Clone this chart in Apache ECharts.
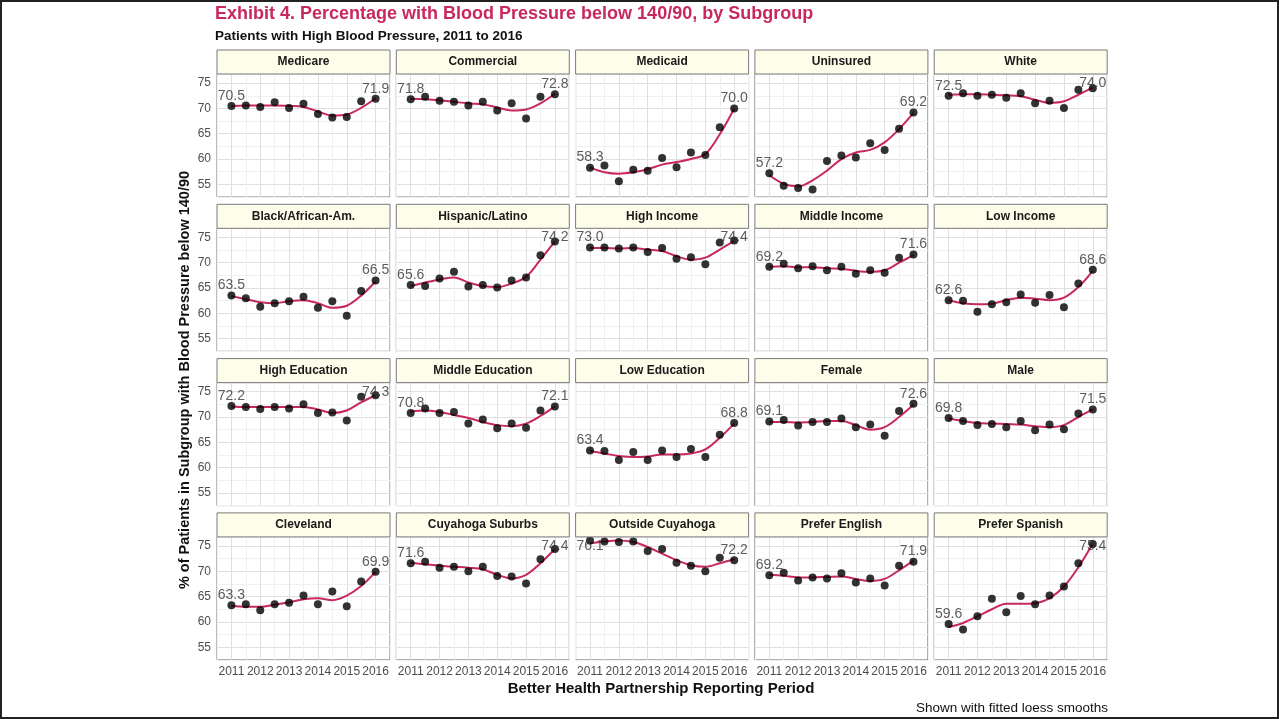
<!DOCTYPE html>
<html>
<head>
<meta charset="utf-8">
<title>Exhibit 4</title>
<script src="https://cdn.jsdelivr.net/npm/echarts@6/dist/echarts.min.js"></script>
<style>
    html, body { margin: 0; padding: 0; background: #fff; }
    #chart { position: absolute; left: 0; top: 0; width: 1279px; height: 719px; }
    #frame { position: absolute; left: 0; top: 0; width: 1275px; height: 715px; border: 2px solid #222; pointer-events: none; }
</style>
</head>
<body>
<div id="chart"></div>
<div id="frame"></div>
<script>
    // half-year reporting periods
    const periods = [2011, 2011.5, 2012, 2012.5, 2013, 2013.5, 2014, 2014.5, 2015, 2015.5, 2016];

    const medicare = [70.5, 70.6, 70.3, 71.2, 70.1, 70.9, 68.9, 68.2, 68.3, 71.4, 71.9];
    const medicareFit = [70.5, 70.6, 70.6, 70.6, 70.5, 70.3, 69.4, 68.6, 68.8, 70.1, 72.0];
    const commercial = [71.8, 72.3, 71.5, 71.3, 70.6, 71.3, 69.6, 71.0, 68.0, 72.3, 72.8];
    const commercialFit = [71.9, 71.8, 71.6, 71.3, 71.0, 70.8, 70.2, 69.6, 69.8, 71.0, 72.9];
    const medicaid = [58.3, 58.7, 55.6, 57.9, 57.7, 60.2, 58.4, 61.3, 60.8, 66.3, 70.0];
    const medicaidFit = [58.3, 57.4, 57.1, 57.4, 58.0, 58.9, 59.4, 60.0, 61.0, 64.9, 70.0];
    const uninsured = [57.2, 54.7, 54.3, 54.0, 59.6, 60.7, 60.3, 63.1, 61.8, 66.0, 69.2];
    const uninsuredFit = [56.8, 55.1, 54.6, 55.8, 57.7, 60.0, 61.3, 61.8, 63.3, 65.9, 69.1];
    const white = [72.5, 73.0, 72.5, 72.7, 72.1, 73.0, 71.0, 71.5, 70.1, 73.7, 74.0];
    const whiteFit = [72.7, 72.8, 72.8, 72.7, 72.6, 72.4, 71.7, 71.1, 71.4, 72.7, 74.1];
    const black = [63.5, 63.0, 61.3, 62.0, 62.4, 63.3, 61.1, 62.4, 59.5, 64.4, 66.5];
    const blackFit = [63.4, 62.8, 62.2, 62.0, 62.4, 62.6, 62.0, 61.1, 61.5, 63.5, 66.3];
    const hispanic = [65.6, 65.4, 66.9, 68.2, 65.3, 65.6, 65.1, 66.5, 67.1, 71.5, 74.2];
    const hispanicFit = [65.4, 66.1, 66.7, 67.1, 66.1, 65.4, 65.2, 65.9, 67.2, 70.6, 74.2];
    const highIncome = [73.0, 73.0, 72.8, 73.0, 72.1, 72.9, 70.8, 71.1, 69.7, 74.0, 74.4];
    const highIncomeFit = [72.9, 72.9, 72.8, 72.9, 72.6, 72.3, 71.3, 70.6, 71.0, 72.6, 74.3];
    const midIncome = [69.2, 69.8, 68.9, 69.3, 68.5, 69.2, 67.8, 68.5, 68.0, 71.0, 71.6];
    const midIncomeFit = [69.2, 69.3, 69.1, 69.1, 68.9, 68.8, 68.4, 68.2, 68.5, 70.0, 71.5];
    const lowIncome = [62.6, 62.5, 60.3, 61.8, 62.2, 63.7, 62.1, 63.6, 61.2, 65.9, 68.6];
    const lowIncomeFit = [62.6, 62.0, 61.8, 61.9, 62.6, 63.1, 62.9, 62.6, 63.1, 65.2, 68.4];
    const highEdu = [72.2, 72.0, 71.6, 72.0, 71.7, 72.5, 70.8, 70.9, 69.3, 74.0, 74.3];
    const highEduFit = [72.1, 72.0, 72.0, 72.0, 72.0, 72.0, 71.5, 70.8, 71.3, 72.9, 74.3];
    const midEdu = [70.8, 71.7, 70.8, 71.0, 68.7, 69.5, 67.8, 68.7, 67.9, 71.3, 72.1];
    const midEduFit = [71.1, 71.3, 71.0, 70.4, 69.8, 69.0, 68.4, 68.2, 68.7, 70.2, 72.1];
    const lowEdu = [63.4, 63.3, 61.5, 63.1, 61.5, 63.4, 62.1, 63.7, 62.1, 66.5, 68.8];
    const lowEduFit = [63.3, 62.8, 62.3, 62.1, 62.2, 62.6, 62.6, 62.8, 63.6, 65.9, 68.7];
    const female = [69.1, 69.4, 68.3, 69.0, 69.0, 69.7, 68.0, 68.5, 66.3, 71.2, 72.6];
    const femaleFit = [69.0, 69.0, 68.9, 69.0, 69.2, 69.2, 68.4, 67.5, 68.0, 70.0, 72.4];
    const male = [69.8, 69.2, 68.4, 68.6, 68.0, 69.2, 67.4, 68.5, 67.6, 70.7, 71.5];
    const maleFit = [69.7, 69.2, 68.8, 68.7, 68.6, 68.5, 68.2, 68.0, 68.4, 70.0, 71.5];
    const cleveland = [63.3, 63.5, 62.3, 63.5, 63.8, 65.2, 63.5, 66.0, 63.1, 68.0, 69.9];
    const clevelandFit = [63.2, 63.0, 63.0, 63.4, 63.9, 64.5, 64.7, 64.3, 65.2, 67.1, 69.9];
    const suburbs = [71.6, 71.9, 70.7, 70.9, 70.0, 70.9, 69.1, 69.0, 67.6, 72.4, 74.4];
    const suburbsFit = [71.7, 71.4, 71.1, 70.9, 70.7, 70.4, 69.3, 68.6, 69.3, 71.6, 74.4];
    const outside = [76.1, 75.9, 75.8, 75.9, 74.0, 74.4, 71.7, 71.1, 70.0, 72.7, 72.2];
    const outsideFit = [75.5, 75.9, 76.1, 75.8, 74.8, 73.5, 72.2, 71.2, 70.9, 71.6, 72.4];
    const english = [69.2, 69.7, 68.2, 68.8, 68.6, 69.6, 67.8, 68.6, 67.2, 71.1, 71.9];
    const englishFit = [69.3, 69.1, 68.8, 68.8, 68.9, 69.0, 68.5, 68.1, 68.5, 70.2, 72.1];
    const spanish = [59.6, 58.5, 61.1, 64.6, 61.9, 65.1, 63.5, 65.2, 67.0, 71.6, 75.4];
    const spanishFit = [59.0, 59.8, 61.1, 62.5, 63.6, 63.6, 63.7, 64.7, 67.0, 70.8, 75.5];

    const panels = [
        ['Medicare', medicare, medicareFit],
        ['Commercial', commercial, commercialFit],
        ['Medicaid', medicaid, medicaidFit],
        ['Uninsured', uninsured, uninsuredFit],
        ['White', white, whiteFit],
        ['Black/African-Am.', black, blackFit],
        ['Hispanic/Latino', hispanic, hispanicFit],
        ['High Income', highIncome, highIncomeFit],
        ['Middle Income', midIncome, midIncomeFit],
        ['Low Income', lowIncome, lowIncomeFit],
        ['High Education', highEdu, highEduFit],
        ['Middle Education', midEdu, midEduFit],
        ['Low Education', lowEdu, lowEduFit],
        ['Female', female, femaleFit],
        ['Male', male, maleFit],
        ['Cleveland', cleveland, clevelandFit],
        ['Cuyahoga Suburbs', suburbs, suburbsFit],
        ['Outside Cuyahoga', outside, outsideFit],
        ['Prefer English', english, englishFit],
        ['Prefer Spanish', spanish, spanishFit]
    ];

    const FONT = '"Liberation Sans", Arial, sans-serif';
    const RED = '#c8285c';
    const MAJOR = '#dfdfdf';
    const MINOR = '#f0f0f0';

    // facet layout
    const left0 = 217, colStep = 179.3, panelW = 173;
    const top0 = 74, rowStep = 154.3, panelH = 123, stripH = 24;

    // end labels sit ~2 points above the value, but never above 75
    const LABEL_LIFT = 2, LABEL_CAP = 75;

    const grids = [], xAxes = [], yAxes = [], series = [], graphics = [];

    panels.forEach(([name, pts, fit], i) => {
        const col = i % 5, row = Math.floor(i / 5);
        const left = left0 + col * colStep;
        const top = top0 + row * rowStep;

        grids.push({
            left: left, top: top, width: panelW, height: panelH,
            show: true, backgroundColor: '#fff', borderColor: '#7a7a7a', borderWidth: 1
        });

        xAxes.push({
            type: 'value', gridIndex: i, min: 2010.5, max: 2016.5, interval: 0.5,
            axisLine: {show: false}, axisTick: {show: false},
            axisLabel: {
                show: row === 3, color: '#4d4d4d', fontSize: 12, fontFamily: FONT, margin: 6,
                formatter: v => Number.isInteger(v) ? String(v) : ''
            },
            splitLine: {show: true, lineStyle: {color: [MINOR, MAJOR], width: 1}}
        });

        yAxes.push({
            type: 'value', gridIndex: i, min: 52.5, max: 76.8, interval: 2.5,
            axisLine: {show: false}, axisTick: {show: false},
            axisLabel: {
                show: col === 0, color: '#4d4d4d', fontSize: 12, fontFamily: FONT, margin: 6,
                formatter: v => (v % 5 === 0 ? String(v) : '')
            },
            splitLine: {show: true, lineStyle: {color: [MINOR, MAJOR], width: 1}}
        });

        series.push({
            type: 'line', xAxisIndex: i, yAxisIndex: i,
            data: periods.map((x, k) => [x, fit[k]]),
            smooth: 0.35, symbol: 'none', silent: true, z: 2,
            lineStyle: {color: RED, width: 2}
        });

        series.push({
            type: 'scatter', xAxisIndex: i, yAxisIndex: i, z: 3,
            symbolSize: 8, itemStyle: {color: '#000'},
            data: periods.map((x, k) => [x, pts[k]])
        });

        // first and last values as text
        const ends = [0, periods.length - 1];
        series.push({
            type: 'scatter', xAxisIndex: i, yAxisIndex: i, z: 4, silent: true,
            symbolSize: 1, itemStyle: {color: 'transparent'},
            label: {
                show: true, position: 'inside', fontSize: 14, color: '#333', fontFamily: FONT,
                formatter: p => p.value[2]
            },
            data: ends.map(k => [periods[k], Math.min(pts[k] + LABEL_LIFT, LABEL_CAP), pts[k].toFixed(1)])
        });

        // strip header
        graphics.push({
            type: 'rect', z: 10,
            shape: {x: left, y: top - stripH, width: panelW, height: stripH},
            style: {fill: '#fdfde9', stroke: '#7a7a7a', lineWidth: 1}
        });
        graphics.push({
            type: 'text', z: 11,
            x: left + panelW / 2, y: top - stripH / 2,
            style: {text: name, textAlign: 'center', textVerticalAlign: 'middle',
                font: 'bold 12px ' + FONT, fill: '#1a1a1a'}
        });
    });

    graphics.push(
        {
            type: 'text', x: 215, y: 14,
            style: {text: 'Exhibit 4. Percentage with Blood Pressure below 140/90, by Subgroup',
                textVerticalAlign: 'middle', font: 'bold 18px ' + FONT, fill: RED}
        },
        {
            type: 'text', x: 215, y: 36,
            style: {text: 'Patients with High Blood Pressure, 2011 to 2016',
                textVerticalAlign: 'middle', font: 'bold 13.5px ' + FONT, fill: '#111'}
        },
        {
            type: 'text', x: 185, y: 380, rotation: Math.PI / 2,
            style: {text: '% of Patients in Subgroup with Blood Pressure below 140/90',
                textAlign: 'center', textVerticalAlign: 'middle', font: 'bold 14.5px ' + FONT, fill: '#111'}
        },
        {
            type: 'text', x: 661, y: 689,
            style: {text: 'Better Health Partnership Reporting Period',
                textAlign: 'center', textVerticalAlign: 'middle', font: 'bold 15px ' + FONT, fill: '#111'}
        },
        {
            type: 'text', x: 1108, y: 708,
            style: {text: 'Shown with fitted loess smooths',
                textAlign: 'right', textVerticalAlign: 'middle', font: '13.5px ' + FONT, fill: '#111'}
        }
    );

    const chart = echarts.init(document.getElementById('chart'));
    chart.setOption({
        animation: false,
        backgroundColor: '#fff',
        grid: grids,
        xAxis: xAxes,
        yAxis: yAxes,
        series: series,
        graphic: graphics
    });
</script>
</body>
</html>
